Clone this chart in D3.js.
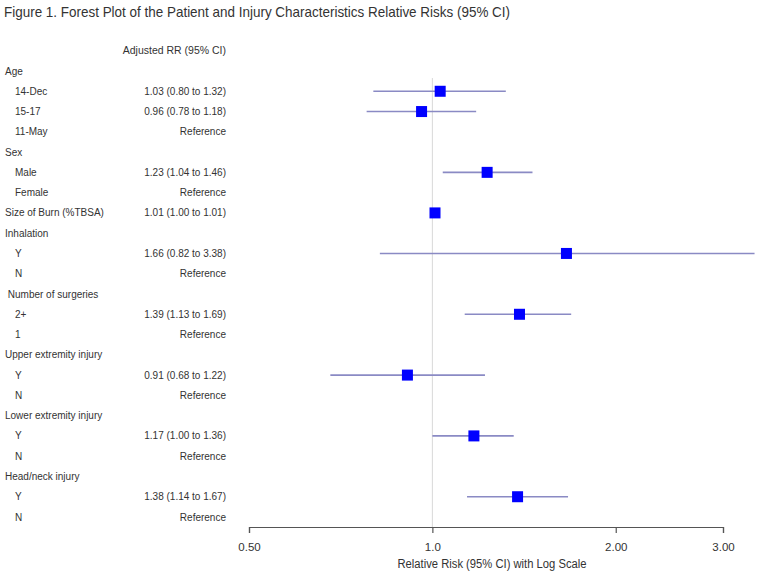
<!DOCTYPE html>
<html>
<head>
<meta charset="utf-8">
<script src="https://cdn.jsdelivr.net/npm/d3@7"></script>
<style>
  body { margin: 0; background: #fff; }
  text { font-family: "Liberation Sans", Arial, sans-serif; fill: #333; }
</style>
</head>
<body>
<svg id="chart" width="760" height="576"></svg>
<script>
// rows of the table, top to bottom
const rowLabels = ['Age', '14-Dec', '15-17', '11-May', 'Sex', 'Male', 'Female', 'Size of Burn (%TBSA)',
  'Inhalation', 'Y', 'N', ' Number of surgeries', '2+', '1', 'Upper extremity injury', 'Y', 'N',
  'Lower extremity injury', 'Y', 'N', 'Head/neck injury', 'Y', 'N'];
const rowIsGroup = [true, false, false, false, true, false, false, true,
  true, false, false, true, false, false, true, false, false,
  true, false, false, true, false, false];
const rrText = ['', '1.03 (0.80 to 1.32)', '0.96 (0.78 to 1.18)', 'Reference', '', '1.23 (1.04 to 1.46)', 'Reference', '1.01 (1.00 to 1.01)',
  '', '1.66 (0.82 to 3.38)', 'Reference', '', '1.39 (1.13 to 1.69)', 'Reference', '', '0.91 (0.68 to 1.22)', 'Reference',
  '', '1.17 (1.00 to 1.36)', 'Reference', '', '1.38 (1.14 to 1.67)', 'Reference'];
const rrEst = [null, 1.03, 0.96, null, null, 1.23, null, 1.01,
  null, 1.66, null, null, 1.39, null, null, 0.91, null,
  null, 1.17, null, null, 1.38, null];
const rrLow = [null, 0.80, 0.78, null, null, 1.04, null, 1.00,
  null, 0.82, null, null, 1.13, null, null, 0.68, null,
  null, 1.00, null, null, 1.14, null];
const rrHigh = [null, 1.32, 1.18, null, null, 1.46, null, 1.01,
  null, 3.38, null, null, 1.69, null, null, 1.22, null,
  null, 1.36, null, null, 1.67, null];
const tickValues = [0.5, 1, 2, 3];
const tickLabels = ['0.50', '1.0', '2.00', '3.00'];

const svg = d3.select('#chart');

// the original figure is a little narrow, squeeze the long titles
svg.append('text')
  .attr('x', 4).attr('y', 17)
  .attr('font-size', 15)
  .attr('textLength', 506)
  .attr('lengthAdjust', 'spacingAndGlyphs')
  .text('Figure 1. Forest Plot of the Patient and Injury Characteristics Relative Risks (95% CI)');

const y = d3.scalePoint()
  .domain(d3.range(rowLabels.length))
  .range([71, 517]);

const x = d3.scaleLog()
  .domain([0.5, 3])
  .range([249, 723]);

const rows = rowLabels.map((label, i) => ({
  i, label, group: rowIsGroup[i], txt: rrText[i],
  est: rrEst[i], lo: rrLow[i], hi: rrHigh[i]
}));

// table columns
svg.append('text')
  .attr('x', 226).attr('y', 50).attr('dy', '0.35em')
  .attr('text-anchor', 'end').attr('font-size', 10.5)
  .text('Adjusted RR (95% CI)');

svg.selectAll('.lbl')
  .data(rows)
  .enter()
  .append('text')
  .attr('class', 'lbl')
  .attr('x', d => d.group ? 5 : 15)
  .attr('y', d => y(d.i))
  .attr('dy', '0.35em')
  .attr('font-size', 10)
  .style('white-space', 'pre')
  .text(d => d.label);

svg.selectAll('.rr')
  .data(rows.filter(d => d.txt))
  .enter()
  .append('text')
  .attr('class', 'rr')
  .attr('x', 226)
  .attr('y', d => y(d.i))
  .attr('dy', '0.35em')
  .attr('text-anchor', 'end')
  .attr('font-size', 10)
  .text(d => d.txt);

// reference line at 1
svg.append('line')
  .attr('x1', x(1)).attr('x2', x(1))
  .attr('y1', 78).attr('y2', 527)
  .attr('stroke', '#d8d8d8').attr('stroke-width', 1);

const est = rows.filter(d => d.est != null);

svg.selectAll('.ci')
  .data(est)
  .enter()
  .append('line')
  .attr('class', 'ci')
  .attr('x1', d => x(d.lo)).attr('x2', d => x(d.hi))
  .attr('y1', d => y(d.i)).attr('y2', d => y(d.i))
  .attr('stroke', '#8a8ac4').attr('stroke-width', 1.6);

const box = 11;
svg.selectAll('.pt')
  .data(est)
  .enter()
  .append('rect')
  .attr('class', 'pt')
  .attr('x', d => x(d.est) - box / 2)
  .attr('y', d => y(d.i) - box / 2)
  .attr('width', box).attr('height', box)
  .attr('fill', '#0000ff');

// axis
const axis = svg.append('g')
  .attr('transform', 'translate(0,527)')
  .call(d3.axisBottom(x)
    .tickValues(tickValues)
    .tickFormat((d, i) => tickLabels[i])
    .tickSizeOuter(0)
    .tickSize(6)
    .tickPadding(10));
axis.select('.domain').attr('stroke', '#555').attr('stroke-width', 1.2);
axis.selectAll('.tick line').attr('stroke', '#555').attr('stroke-width', 1.2);
axis.selectAll('.tick text')
  .attr('font-size', 11.5)
  .attr('font-family', '"Liberation Sans", Arial, sans-serif')
  .attr('fill', '#333');

svg.append('text')
  .attr('x', 492).attr('y', 568)
  .attr('text-anchor', 'middle')
  .attr('font-size', 12)
  .attr('textLength', 189)
  .attr('lengthAdjust', 'spacingAndGlyphs')
  .text('Relative Risk (95% CI) with Log Scale');
</script>
</body>
</html>
